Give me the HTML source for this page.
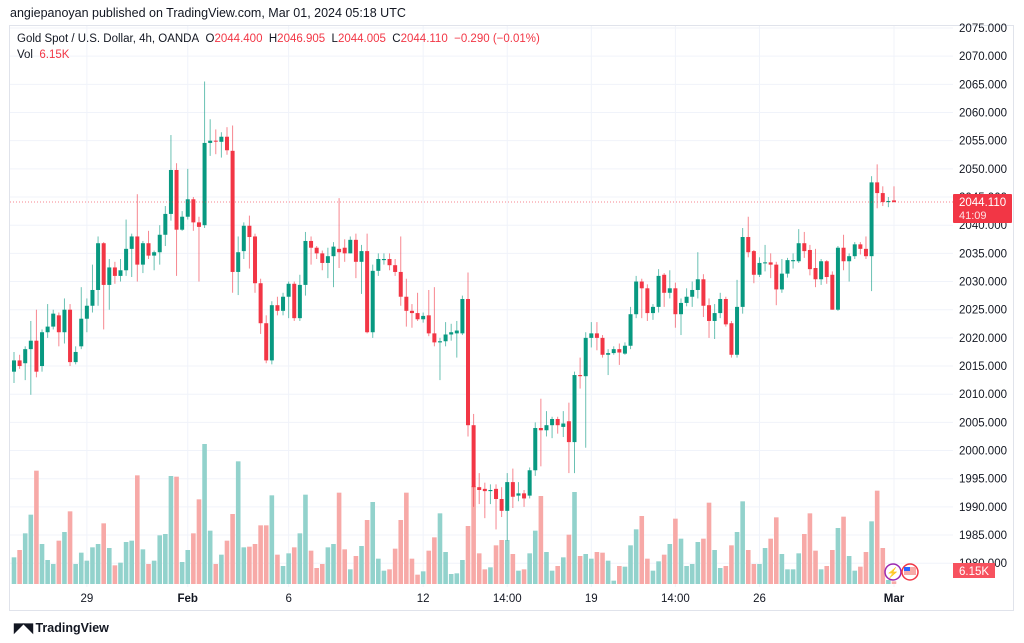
<!DOCTYPE html>
<html><head><meta charset="utf-8">
<style>
html,body{margin:0;padding:0;background:#fff;width:1024px;height:643px;overflow:hidden;font-family:"Liberation Sans",sans-serif;}
#wrap{position:relative;width:1024px;height:643px;}
.t{position:absolute;white-space:nowrap;color:#131722;}
</style></head>
<body>
<div id="wrap">
<div class="t" style="left:10px;top:6px;font-size:12.5px;">angiepanoyan published on TradingView.com, Mar 01, 2024 05:18 UTC</div>
<svg id="chart" width="1024" height="643" style="position:absolute;left:0;top:0" xmlns="http://www.w3.org/2000/svg"></svg>
<div class="t" style="left:17px;top:33px;font-size:11.5px;">Gold Spot / U.S. Dollar, 4h, OANDA&nbsp; O<span style="color:#f23645">2044.400</span>&nbsp; H<span style="color:#f23645">2046.905</span>&nbsp; L<span style="color:#f23645">2044.005</span>&nbsp; C<span style="color:#f23645">2044.110</span>&nbsp; <span style="color:#f23645">−0.290 (−0.01%)</span></div>
<div class="t" style="left:17px;top:49px;font-size:11.5px;">Vol&nbsp; <span style="color:#f23645">6.15K</span></div>
<div class="t" style="left:14px;top:620px;font-size:12.5px;font-weight:bold;color:#131722;"><span style="font-size:13px;letter-spacing:-1px;">◤◥</span> TradingView</div>
</div>
<script>
const opens=[2014,2016,2015.5,2018,2019.5,2015,2021,2022,2024,2021,2025,2015.7,2018.5,2023.4,2025.7,2028.5,2036.8,2029.4,2032.5,2031,2032,2035.8,2038,2033,2036.8,2034.6,2035.2,2038.3,2042,2049.8,2039.2,2041.5,2044.6,2040.5,2040,2054.6,2055,2054.8,2055.7,2053.2,2031.7,
2035.4,2039.9,2038,2029.7,2022.6,2016,2025.8,2024.8,2027.3,2029.6,2023.5,2029.4,2037.2,2036,2035,2033.3,2034.5,2035.8,2036,2035,2037.4,2033.5,2035.4,2021,2031.9,2033.8,2034,2032.9,2031.7,2027.3,2024.8,2024.4,2023.3,2024,2020.8,2019.2,2019.4,2020.6,2020.8,2020.8,
2026.9,2004.5,1993.5,1993.2,1992.8,1993.2,1991.4,1989.3,1994.4,1992,1992.4,1992,1996.5,2004,2003.6,2004.5,2005.6,2004.2,2005.2,2001.5,2013.4,2013.2,2020,2020.8,2020,2017,2017.3,2018,2017.2,2018.6,2024.2,2030,2028.8,2024.4,2025.5,
2031.2,2028,2028.8,2024.2,2026.2,2027.3,2028.5,2030.4,2025.8,2023,2024.4,2026.9,2022.6,2017,2025.5,2037.9,2035.4,2031.2,2033.3,2033.4,2033,2028.6,2031.4,2033.6,2033.6,2036.8,2035.6,2032.4,2030.4,2033.6,2031.2,2025,2036,2033.6,2034.5,2036.6,2035.8,2034.5,2047.6,2045.7,2044.1,2044.4];
const closes=[2016,2015,2018,2019.5,2014,2021,2022,2024.3,2021,2025,2015.7,2017.5,2023.4,2025.7,2028.5,2036.8,2029.4,2032.5,2031,2032,2035.8,2038,2033,2036.8,2034.6,2035.2,2038.3,2042,2049.8,2039.2,2041.5,2044.6,2040.5,2039.7,2054.6,2055,2054.9,2055.7,2053.3,2031.7,2035.2,
2039.9,2037.9,2029.7,2022.6,2016,2025.8,2024.8,2027.3,2029.6,2023.5,2029.4,2037.2,2036,2035,2033.3,2034.5,2036.2,2035.2,2035,2037.4,2033.5,2035.4,2021,2031.9,2034,2034,2032.9,2031.7,2027.3,2024.8,2024.4,2023.3,2023.9,2020.8,2019.2,2019.4,2020.6,2021,2021.3,2026.9,
2004.5,1993.5,1993,1992.8,1993,1991.4,1989.3,1994.4,1991.8,1992.4,1991.5,1996.5,2004,2003.6,2004.5,2005.6,2004.5,2004.8,2001.5,2013.4,2013.2,2020,2020.8,2020,2017,2017.3,2018,2017.4,2018.6,2024.2,2030,2028.8,2024.4,2025.5,2031,
2028,2028.8,2024.2,2026.2,2027.3,2028.5,2030.4,2025.7,2023,2024.4,2026.9,2022.4,2017,2025.5,2037.9,2035.2,2031.2,2033.3,2033.4,2033,2028.6,2031.4,2033.8,2033.8,2036.8,2035.4,2032.2,2030.4,2033.6,2030.8,2025,2036,2033.6,2034.5,2036.6,2035.8,2034.5,2047.6,2045.7,2044.1,2044.3,2044.11];
const highs=[2017.5,2017,2018.5,2023,2025,2021.5,2026,2025,2024.5,2027,2026,2018.5,2029,2027,2033,2038,2037,2034,2033.5,2034,2041,2038.5,2045.5,2037.2,2039,2035.5,2040,2043.4,2056,2051,2042.5,2050,2045,2041.5,2065.5,2058.8,2057,2056.5,2057.4,2057.7,2038,
2040.5,2041.7,2038.5,2030.5,2024,2026.5,2027.3,2028,2030,2030,2031.2,2038.8,2038,2036.3,2035.5,2036,2037,2044.8,2037.5,2038,2038.5,2036.5,2038.5,2033,2035,2035,2035,2034,2038,2030.5,2026,2028,2024.5,2028.5,2029,2020,2022.8,2022.5,2023,2027.5,
2031.6,2006.5,1996,1994.3,1994,1994,1993.5,1996,1996.8,1994.4,1993,1997,2005,2009.2,2007,2006,2006,2007,2008.5,2014,2016.5,2021,2022.8,2022.8,2020.5,2018,2018.5,2019,2019.2,2025.5,2031,2030.5,2029.5,2026,2032.2,
2031.5,2032,2029.8,2027,2028.8,2030,2035.2,2031.3,2027,2026,2028,2027.3,2023,2030.3,2039.5,2041.5,2035.6,2034.3,2036.5,2035,2033.5,2034,2034.2,2035,2039.3,2038.8,2036.5,2035.8,2034,2033.8,2031.8,2036.3,2038.3,2035,2037,2037,2038,2048.7,2050.8,2046.9,2045,2046.9];
const lows=[2012,2014.5,2012.5,2009.9,2013,2014,2020,2021.5,2018.5,2019,2015,2015.3,2018,2021,2024.5,2025.7,2021.5,2025,2029.6,2030,2031,2030.8,2030,2031.5,2034,2032,2033,2036.3,2040.8,2031,2039,2041,2039,2030,2039.5,2052.3,2052.6,2052,2052.5,2028,2027.6,
2034,2032.3,2028,2020.7,2015.5,2015.3,2024,2024,2023.5,2023,2023,2027.5,2033,2034,2032,2030.6,2029,2032.4,2033.5,2035,2030.6,2027.8,2020.8,2020,2031,2033,2032,2031,2025.7,2022,2021.8,2023,2022.7,2020.3,2018.5,2012.5,2018.5,2019.5,2016.5,2020.5,
2002.5,1990,1990.5,1988,1990.5,1986,1988.2,1984,1989.8,1991,1990,1991.5,1995.5,1997.2,2002.5,2002.2,2003,2002.4,1996,1996,2011,2000.5,2018.3,2017.8,2016.5,2013.4,2017,2015.2,2017,2018,2023.5,2023.5,2023,2023.2,2024.5,
2025.5,2027,2021.8,2020.5,2025.6,2025.5,2027,2023.7,2020,2019.8,2023.5,2022,2016.5,2016.5,2024.3,2034.3,2029.7,2030.8,2031.8,2030.6,2025.8,2028,2030.7,2032.3,2033.3,2034.2,2031.1,2029,2029.4,2029.6,2025,2024.8,2032,2030,2034,2034.8,2034,2028.3,2043,2043.4,2043.2,2044.0];
const volumes=[40,51,76,104,170,60,36,30,65,78,109,30,47,35,55,60,91,54,28,32,63,65,163,52,30,35,73,75,162,161,33,51,76,127,210,80,30,44,65,105,184,55,56,60,88,88,133,44,27,46,55,76,134,50,24,30,55,60,137,52,22,42,57,96,123,38,20,22,53,96,137,38,14,19,50,70,106,48,15,16,36,87,
147,46,22,25,58,66,66,45,20,22,46,80,132,48,20,27,40,74,138,42,45,38,48,47,35,5,27,26,58,82,102,38,20,34,44,60,98,68,27,30,63,68,122,51,24,27,58,78,124,51,30,30,54,68,100,45,22,22,46,75,106,50,22,27,51,84,101,42,20,26,48,94,140,54,6,4];
const priceTicks=[1980,1985,1990,1995,2000,2005,2010,2015,2020,2025,2030,2035,2040,2045,2050,2055,2060,2065,2070,2075];
const timeLabels=["29","Feb","6","12","14:00","19","14:00","26","Mar"];
const timeIndex=[13,31,49,73,88,103,118,133,157];
const lastPrice=2044.11;

const NS="http://www.w3.org/2000/svg";
const svg=document.getElementById('chart');
function x(i){return 14+i*5.605;}
function y(p){return 28+(2075-p)*5.634;}
function yv(v){return 584-v*(140/210);}
function mk(tag,attrs,parent){const e=document.createElementNS(NS,tag);for(const k in attrs)e.setAttribute(k,attrs[k]);(parent||svg).appendChild(e);return e;}

// frame
const frame=mk('rect',{x:9.5,y:25.5,width:1004,height:585,fill:'none',stroke:'#e0e3eb'});


// grid
priceTicks.forEach(p=>{
  const l=mk('line',{x1:10,x2:953,y1:y(p),y2:y(p),stroke:'#f0f3fa'});
  
  
  const t=mk('text',{x:1007,y:y(p)+4,'text-anchor':'end','font-size':'11.5',fill:'#131722','font-family':'Liberation Sans, sans-serif'});
  t.textContent=p.toFixed(3);
  
  
});
timeIndex.forEach((idx,k)=>{
  const l=mk('line',{x1:x(idx),x2:x(idx),y1:26,y2:587,stroke:'#f0f3fa'});
  
  
  const t=mk('text',{x:x(idx),y:602,'text-anchor':'middle','font-size':'11.5',fill:'#131722','font-family':'Liberation Sans, sans-serif','font-weight':(timeLabels[k]==='Feb'||timeLabels[k]==='Mar')?'bold':'normal'});
  t.textContent=timeLabels[k];
  
  
});
// volume
volumes.forEach((v,i)=>{
  const up=closes[i]>=opens[i];
  const r=mk('rect',{x:x(i)-2.3,y:yv(v),width:4.6,height:584-yv(v),fill:up?'#92d2cc':'#f7a9a7'});
  
  
});
// candles
opens.forEach((o,i)=>{
  const c=closes[i],up=c>=o,col=up?'#089981':'#f23645';
  const w=mk('line',{x1:x(i),x2:x(i),y1:y(highs[i]),y2:y(lows[i]),stroke:col,'stroke-width':1,opacity:0.6});
  
  
  const top=y(Math.max(o,c)),h=Math.max(1,y(Math.min(o,c))-top);
  const b=mk('rect',{x:x(i)-2,y:top,width:4,height:h,fill:col});
  
  
});
// last price line
const lp=mk('line',{x1:10,x2:953,y1:y(lastPrice),y2:y(lastPrice),stroke:'#f23645','stroke-dasharray':'1 2',opacity:0.6});


const lb=mk('rect',{x:953,y:y(lastPrice)-8,width:59,height:29,fill:'#f23645',rx:1});


const lt=mk('text',{x:959,y:y(lastPrice)+4,'font-size':'11.5',fill:'#fff','font-family':'Liberation Sans, sans-serif'});
lt.textContent=lastPrice.toFixed(3);


const ct=mk('text',{x:959,y:y(lastPrice)+17,'font-size':'11',fill:'#fde2e4','font-family':'Liberation Sans, sans-serif'});
ct.textContent='41:09';


const vb=mk('rect',{x:953,y:563,width:42,height:15,fill:'#f7525f'});


const vt=mk('text',{x:959,y:575,'font-size':'11.5',fill:'#fff','font-family':'Liberation Sans, sans-serif'});
vt.textContent='6.15K';


// event icons
const ic1=mk('circle',{cx:893,cy:572,r:8,fill:'#fff',stroke:'#9c27b0','stroke-width':1.5});


const i1t=mk('text',{x:893,y:576,'text-anchor':'middle','font-size':'10',fill:'#9c27b0'});
i1t.textContent='⚡';


const ic2=mk('circle',{cx:910,cy:572,r:8,fill:'#fff',stroke:'#f23645','stroke-width':1.5});


const fl=mk('rect',{x:904,y:567,width:12,height:8,fill:'#f7a9a7'});


const fc=mk('rect',{x:904,y:567,width:6,height:4,fill:'#2962ff'});


</script>
</body></html>
